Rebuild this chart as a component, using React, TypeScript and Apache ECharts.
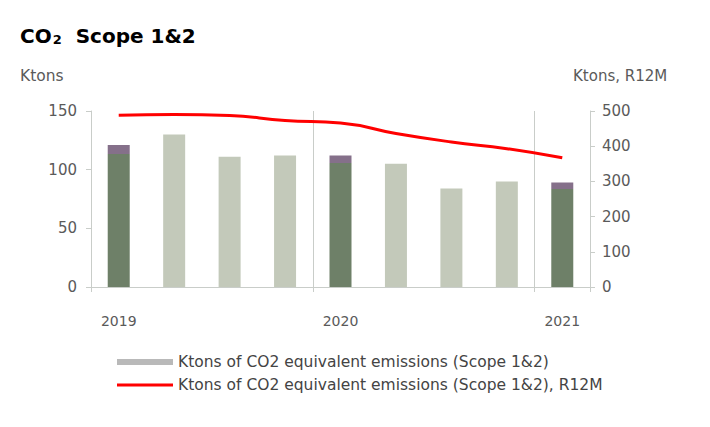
import React, { useEffect, useRef } from "react";
import * as echarts from "echarts";

const categories = ["2019", "", "", "", "2020", "", "", "", "2021"];
const emissions = [121, 130, 111, 112, 112, 105, 84, 90, 89];
const emissionsR12M = [488, 490, 487, 473, 466, 436, 412, 393, 367];
const highlighted = [0, 4, 8];
const leftTicks = { min: 0, max: 150, interval: 50 };
const rightTicks = { min: 0, max: 500, interval: 100 };
const barName = "Ktons of CO2 equivalent emissions (Scope 1&2)";
const lineName = "Ktons of CO2 equivalent emissions (Scope 1&2), R12M";

const FONT = "DejaVu Sans";
const AXIS_COLOR = "#c9cdc9";
const TEXT_COLOR = "#5a5a5a";

export default function App() {
  const ref = useRef<HTMLDivElement>(null);
  useEffect(() => {
    document.body.style.margin = "0";
    const chart = echarts.init(ref.current!, null, { renderer: "svg" });
    const darkColor = new echarts.graphic.LinearGradient(0, 0, 0, 1, [
      { offset: 0, color: "#85708a" },
      { offset: 0.06, color: "#85708a" },
      { offset: 0.06, color: "#6e8068" },
      { offset: 1, color: "#6e8068" },
    ]);
    chart.setOption({
      animation: false,
      textStyle: { fontFamily: FONT },
      title: {
        left: 20,
        top: 25,
        padding: 0,
        text: "{a|CO}{b|2}{a|  Scope 1&2}",
        textStyle: {
          rich: {
            a: { fontFamily: FONT, fontWeight: "bold", fontSize: 20, color: "#000" },
            b: { fontFamily: FONT, fontWeight: "bold", fontSize: 13, color: "#000", padding: [8, 0, 0, 1] },
          },
        },
      },
      graphic: [
        { type: "text", left: 20, top: 68, style: { text: "Ktons", font: `15.5px '${FONT}'`, fill: TEXT_COLOR } },
        { type: "text", left: 573, top: 68, style: { text: "Ktons, R12M", font: `15px '${FONT}'`, fill: TEXT_COLOR } },
      ],
      legend: [
        {
          left: 117,
          top: 354,
          padding: 0,
          itemWidth: 56,
          itemHeight: 6,
          data: [{ name: barName, icon: "rect", itemStyle: { color: "#b9b9b9" } }],
          textStyle: { fontFamily: FONT, fontSize: 15.5, color: "#444" },
        },
        {
          left: 117,
          top: 377,
          padding: 0,
          itemWidth: 56,
          itemHeight: 3,
          data: [{ name: lineName, icon: "rect", itemStyle: { color: "#ff0000" } }],
          textStyle: { fontFamily: FONT, fontSize: 15.5, color: "#444" },
        },
      ],
      grid: { left: 91, right: 120, top: 111, bottom: 140, containLabel: false },
      xAxis: {
        type: "category",
        data: categories,
        boundaryGap: true,
        axisLine: { lineStyle: { color: AXIS_COLOR } },
        axisTick: { show: true, length: 5, interval: (i: number) => i % 4 === 0, lineStyle: { color: AXIS_COLOR } },
        splitLine: { show: true, interval: (i: number) => i % 4 === 0 && i > 0, lineStyle: { color: AXIS_COLOR } },
        axisLabel: { interval: 0, margin: 27, fontSize: 14, color: TEXT_COLOR, fontFamily: FONT },
      },
      yAxis: [
        {
          type: "value",
          ...leftTicks,
          axisLine: { show: true, lineStyle: { color: AXIS_COLOR } },
          axisTick: { show: true, length: 5, lineStyle: { color: AXIS_COLOR } },
          splitLine: { show: false },
          axisLabel: { margin: 14, fontSize: 15, color: TEXT_COLOR, fontFamily: FONT },
        },
        {
          type: "value",
          ...rightTicks,
          position: "right",
          axisLine: { show: true, lineStyle: { color: AXIS_COLOR } },
          axisTick: { show: true, length: 5, lineStyle: { color: AXIS_COLOR } },
          splitLine: { show: false },
          axisLabel: { margin: 12, fontSize: 15, color: TEXT_COLOR, fontFamily: FONT },
        },
      ],
      series: [
        {
          name: barName,
          type: "bar",
          barWidth: 22,
          yAxisIndex: 0,
          itemStyle: { color: "#c3c9ba" },
          data: emissions.map((v, i) =>
            highlighted.includes(i) ? { value: v, itemStyle: { color: darkColor } } : v
          ),
        },
        {
          name: lineName,
          type: "line",
          yAxisIndex: 1,
          smooth: true,
          symbol: "none",
          lineStyle: { color: "#ff0000", width: 3 },
          itemStyle: { color: "#ff0000" },
          data: emissionsR12M,
        },
      ],
    });
    return () => chart.dispose();
  }, []);
  return <div ref={ref} style={{ width: 710, height: 427 }} />;
}
